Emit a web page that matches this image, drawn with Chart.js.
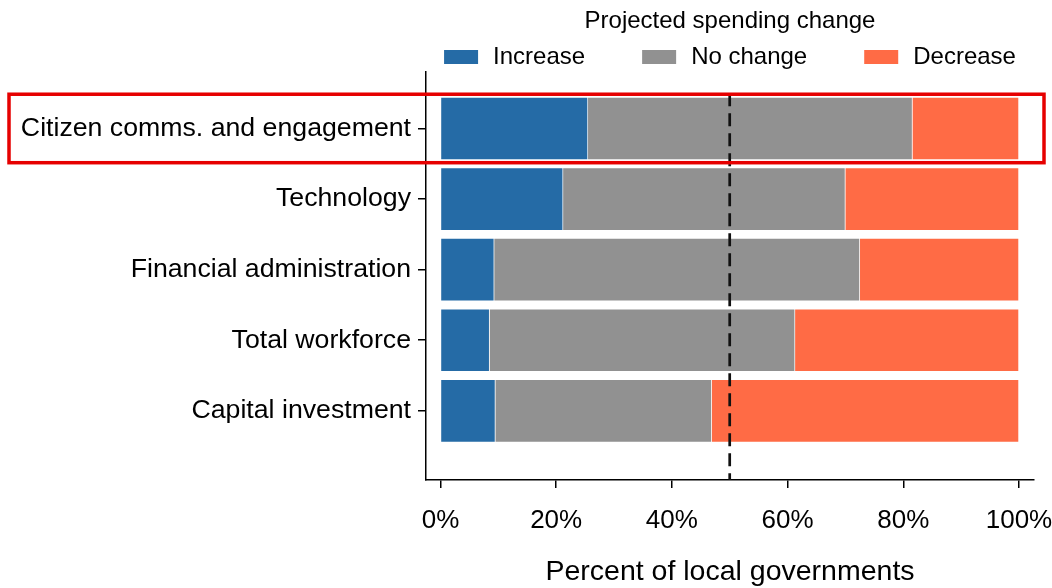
<!DOCTYPE html>
<html>
<head>
<meta charset="utf-8">
<script src="https://cdn.jsdelivr.net/npm/chart.js@4.4.0/dist/chart.umd.min.js"></script>
<style>
  html, body { margin: 0; padding: 0; background: #ffffff; }
  #wrap { width: 1052px; height: 588px; }
</style>
</head>
<body>
<div id="wrap"><canvas id="spendingChart" width="1052" height="588"></canvas></div>
<script>
// Data (percent of local governments)
const categories = [
  'Citizen comms. and engagement',
  'Technology',
  'Financial administration',
  'Total workforce',
  'Capital investment'
];
const increase = [25.5, 21.2, 9.3, 8.5, 9.5];
const noChange = [56.1, 48.8, 63.2, 52.8, 37.4];
const decrease = [18.4, 30.0, 27.5, 38.7, 53.1];
const xTicks = [0, 20, 40, 60, 80, 100];
const xTickLabels = ['0%', '20%', '40%', '60%', '80%', '100%'];
const midLine = 50;
const highlighted = 0;
const legendTitle = 'Projected spending change';

const FONT = '"Liberation Sans", Arial, sans-serif';
Chart.defaults.font.family = FONT;
Chart.defaults.color = '#000000';

function toPoints(values) {
  return values.map((v, i) => ({ x: v, y: i }));
}

// Legend drawn above the plot, centred over the chart area
const topLegend = {
  id: 'topLegend',
  afterDraw(chart) {
    const { ctx, chartArea } = chart;
    const cx = (chartArea.left + chartArea.right) / 2;
    const boxW = 34, boxH = 14, textGap = 15, itemGap = 57;
    ctx.save();
    ctx.font = '24px ' + FONT;
    ctx.fillStyle = '#000000';
    ctx.textAlign = 'center';
    ctx.textBaseline = 'middle';
    ctx.fillText(legendTitle, cx, chartArea.top - 51);

    const items = chart.data.datasets.map(ds => ({
      label: ds.label,
      color: ds.backgroundColor,
      width: boxW + textGap + ctx.measureText(ds.label).width
    }));
    const total = items.reduce((s, it) => s + it.width, 0) + itemGap * (items.length - 1);
    let x = cx - total / 2;
    const y = chartArea.top - 15;
    ctx.textAlign = 'left';
    items.forEach(it => {
      ctx.fillStyle = it.color;
      ctx.fillRect(x, y - boxH / 2, boxW, boxH);
      ctx.fillStyle = '#000000';
      ctx.fillText(it.label, x + boxW + textGap, y);
      x += it.width + itemGap;
    });
    ctx.restore();
  }
};

// Dashed 50% reference line and the red highlight box
const overlays = {
  id: 'overlays',
  afterDatasetsDraw(chart) {
    const { ctx, chartArea, scales } = chart;
    const xm = scales.x.getPixelForValue(midLine);
    ctx.save();
    ctx.strokeStyle = '#111111';
    ctx.lineWidth = 2.7;
    ctx.setLineDash([13, 7]);
    ctx.beginPath();
    ctx.moveTo(xm, scales.y.getPixelForValue(-0.5));
    ctx.lineTo(xm, chartArea.bottom);
    ctx.stroke();
    ctx.restore();
  },
  afterDraw(chart) {
    const { ctx, chartArea, scales } = chart;
    const top = scales.y.getPixelForValue(highlighted - 0.485);
    const bottom = scales.y.getPixelForValue(highlighted + 0.485);
    ctx.save();
    ctx.strokeStyle = '#e60000';
    ctx.lineWidth = 3.5;
    ctx.strokeRect(9, top, chartArea.right + 10 - 9, bottom - top);
    ctx.restore();
  }
};

const axisLine = { display: true, color: '#000000', width: 1.5 };
const axisGrid = { offset: false, drawOnChartArea: false, drawTicks: true, tickLength: 8, color: '#000000', lineWidth: 1.5 };

const ctx = document.getElementById('spendingChart').getContext('2d');
const chart = new Chart(ctx, {
  type: 'bar',
  data: {
    datasets: [
      { label: 'Increase', data: toPoints(increase), backgroundColor: '#256ba6' },
      { label: 'No change', data: toPoints(noChange), backgroundColor: '#919191' },
      { label: 'Decrease', data: toPoints(decrease), backgroundColor: '#ff6b45' }
    ]
  },
  options: {
    indexAxis: 'y',
    responsive: false,
    animation: false,
    barThickness: 63,
    borderWidth: 1,
    borderColor: 'rgba(255,255,255,0.35)',
    layout: { padding: { top: 72, right: 18, left: 0, bottom: 0 } },
    plugins: {
      legend: { display: false },
      tooltip: { enabled: false }
    },
    scales: {
      x: {
        type: 'linear',
        stacked: true,
        min: -2.5,
        max: 102.6,
        afterBuildTicks: s => { s.ticks = xTicks.map(v => ({ value: v })); },
        afterFit: s => { s.height = 108; s.paddingRight = 0; s.paddingLeft = 0; },
        ticks: {
          callback: (v) => xTickLabels[xTicks.indexOf(v)],
          font: { size: 26 },
          color: '#000000',
          padding: 17,
          maxRotation: 0
        },
        grid: axisGrid,
        border: axisLine,
        title: {
          display: true,
          text: 'Percent of local governments',
          font: { size: 28.5, lineHeight: 1.1 },
          color: '#000000',
          padding: { top: 0, bottom: 0 }
        }
      },
      y: {
        type: 'linear',
        stacked: true,
        offset: false,
        reverse: true,
        min: -0.8,
        max: 4.98,
        afterBuildTicks: s => { s.ticks = categories.map((c, i) => ({ value: i })); },
        afterFit: s => { s.width = 426; s.paddingTop = 0; s.paddingBottom = 0; },
        ticks: {
          callback: (v) => categories[v],
          font: { size: 26.7 },
          color: '#000000',
          padding: 7
        },
        grid: axisGrid,
        border: axisLine
      }
    }
  },
  plugins: [topLegend, overlays]
});
</script>
</body>
</html>
